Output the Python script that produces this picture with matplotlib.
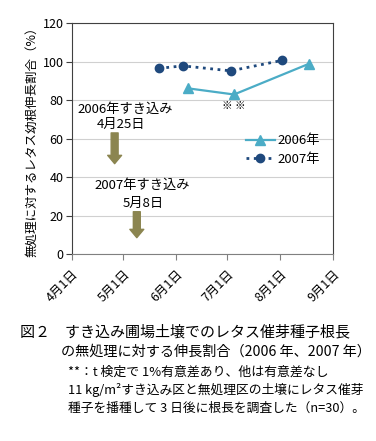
import matplotlib
matplotlib.use("Agg")
import matplotlib.pyplot as plt
import matplotlib.dates as mdates
from datetime import datetime

plt.rcParams['font.family'] = ['Noto Sans CJK JP', 'DejaVu Sans']

# Data
dates_2006 = ["2007-06-08", "2007-07-05", "2007-08-18"]
vals_2006 = [86.2, 83.0, 99.0]
dates_2007 = ["2007-05-22", "2007-06-05", "2007-07-03", "2007-08-02"]
vals_2007 = [96.6, 97.9, 95.3, 100.7]
tick_dates = ["2007-04-01", "2007-05-01", "2007-06-01", "2007-07-01", "2007-08-01", "2007-09-01"]
tick_labels = ["4月1日", "5月1日", "6月1日", "7月1日", "8月1日", "9月1日"]
yticks = [0, 20, 40, 60, 80, 100, 120]

def d(s):
    return mdates.date2num(datetime.strptime(s, "%Y-%m-%d"))

fig = plt.figure(figsize=(3.76, 4.41), dpi=100)
ax = fig.add_axes([0.1915, 0.424, 0.694, 0.523])

c06 = '#4bacc6'
c07 = '#1f497d'
ax.plot([d(s) for s in dates_2006], vals_2006, '-', color=c06, lw=1.6,
        marker='^', ms=7, label='2006年')
ax.plot([d(s) for s in dates_2007], vals_2007, ':', color=c07, lw=2.0,
        marker='o', ms=6, label='2007年')

ax.set_xlim(d(tick_dates[0]), d(tick_dates[-1]))
ax.set_ylim(0, 120)
ax.set_yticks(yticks)
ax.set_yticklabels([str(v) for v in yticks], fontsize=9)
ax.set_xticks([d(s) for s in tick_dates])
ax.set_xticklabels(tick_labels, rotation=45, ha='right', va='top',
                   rotation_mode='anchor', fontsize=9)
ax.grid(axis='y', color='#d0d0d0', lw=0.8)
ax.set_axisbelow(True)
for s in ['left', 'top', 'right']:
    ax.spines[s].set_color('#404040')
ax.spines['bottom'].set_color('#808080')
ax.tick_params(axis='y', length=4, color='#404040', pad=2)
ax.tick_params(axis='x', length=4, color='#808080', pad=6)
ax.set_ylabel('無処理に対するレタス幼根伸長割合（%）', fontsize=9, labelpad=3)

# annotations
ax.text(d("2007-07-05"), 77, '※ ※', fontsize=7.5, ha='center', va='center')
ax.text(d("2007-05-02"), 75.5, '2006年すき込み', fontsize=9.5, ha='center', va='center')
ax.text(d("2007-04-30"), 67.5, '4月25日', fontsize=9.5, ha='center', va='center')
ax.text(d("2007-05-12"), 35.5, '2007年すき込み', fontsize=9.5, ha='center', va='center')
ax.text(d("2007-05-13"), 26.5, '5月8日', fontsize=9.5, ha='center', va='center')
acol = '#8b8550'
ax.annotate('', xy=(d("2007-04-26"), 47), xytext=(d("2007-04-26"), 63),
            arrowprops=dict(arrowstyle='simple,head_width=1.0,head_length=0.6,tail_width=0.5',
                            color=acol, mutation_scale=10, shrinkA=0, shrinkB=0))
ax.annotate('', xy=(d("2007-05-09"), 8.5), xytext=(d("2007-05-09"), 22),
            arrowprops=dict(arrowstyle='simple,head_width=1.0,head_length=0.6,tail_width=0.5',
                            color=acol, mutation_scale=10, shrinkA=0, shrinkB=0))

ax.legend(loc='upper left', bbox_to_anchor=(0.62, 0.57), frameon=False,
          fontsize=9.5, handlelength=2.2, handletextpad=0.2, labelspacing=0.4)

# caption
fig.text(20/376, 1-332/441, '図２　すき込み圃場土壌でのレタス催芽種子根長', fontsize=10.8, va='center')
fig.text(61/376, 1-352/441, 'の無処理に対する伸長割合（2006 年、2007 年）', fontsize=10.2, va='center')
fig.text(68/376, 1-372/441, '**：t 検定で 1%有意差あり、他は有意差なし', fontsize=9.3, va='center')
fig.text(68/376, 1-390/441, '11 kg/m²すき込み区と無処理区の土壌にレタス催芽', fontsize=9.2, va='center')
fig.text(68/376, 1-408/441, '種子を播種して 3 日後に根長を調査した（n=30）。', fontsize=9.2, va='center')

fig.savefig('out.png', dpi=100)
